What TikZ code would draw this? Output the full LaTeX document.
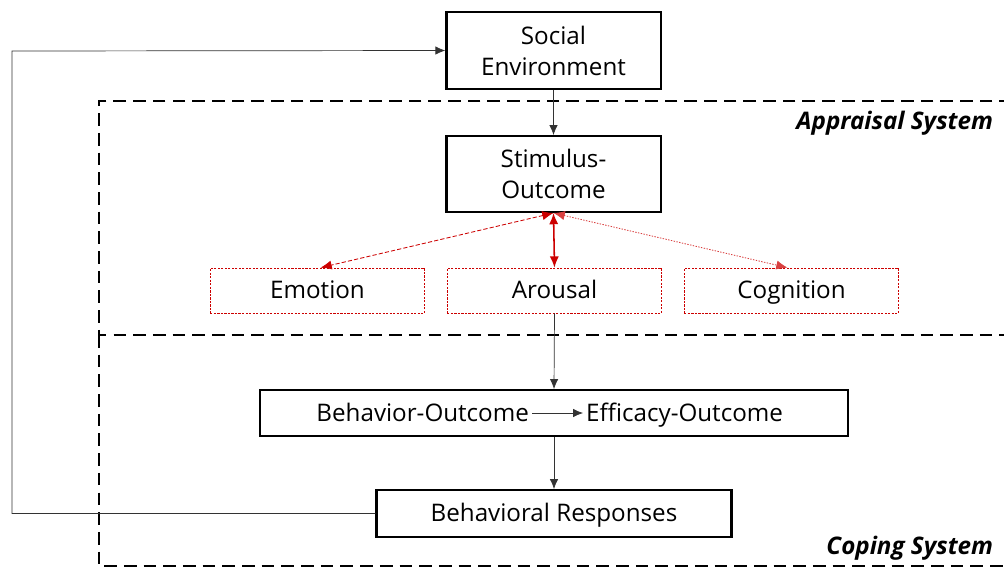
\documentclass[tikz,border=0pt]{standalone}
\usepackage{fontspec}
\setmainfont{Open Sans}
\usetikzlibrary{positioning,arrows.meta}
\definecolor{linkred}{RGB}{204,0,0}
\newlength{\pxu}
\setlength{\pxu}{0.7087pt}
\def\txt{\fontsize{17.2}{22}\selectfont}
\tikzstyle{mainbox}=[draw=black,line width=1.6pt,align=center,inner sep=0pt]
\tikzstyle{oneline}=[text height=14pt,text depth=2pt]
\tikzstyle{redbox}=[draw=linkred,dash pattern=on 1.5pt off 1pt,line width=0.6pt,inner sep=0pt,minimum width=215\pxu,minimum height=45\pxu,oneline]
\tikzstyle{region}=[draw=black,line width=1.6pt,dash pattern=on 9pt off 5pt]
\tikzstyle{link}=[-{Latex[length=7pt,width=6pt]},line width=0.5pt,draw=black!80]
\tikzstyle{redlink}=[{Latex[length=8pt,width=6.5pt]}-{Latex[length=8pt,width=6.5pt]},linkred]

\begin{document}
\begin{tikzpicture}[x=0.025cm,y=-0.025cm,font=\txt]
			\useasboundingbox (0,0) rectangle (1004,568);
			% system regions
			\draw[region] (1012,101) -- (99,101) -- (99,335) -- (1012,335);
			\draw[region] (99,335) -- (99,566) -- (1012,566);
			\node[anchor=east,font=\txt\bfseries\itshape] (appraisal) at (998,123) {Appraisal System};
			\node[anchor=east,font=\txt\bfseries\itshape] (coping) at (998,548) {Coping System};
			% boxes
			\node[mainbox,minimum width=215\pxu,minimum height=77\pxu] (social) at (553.5,50.5) {Social\\Environment};
			\node[mainbox,minimum width=215\pxu,minimum height=76\pxu] (stimulus) at (553.5,174) {Stimulus-\\Outcome};
			\foreach \name/\lbl/\x in {emotion/Emotion/317.5,arousal/Arousal/554.5,cognition/Cognition/791.5}
				\node[redbox] (\name) at (\x,290.5) {\lbl};
			\node[mainbox,minimum width=590\pxu,minimum height=46\pxu] (behavior) at (554,413) {};
			\node[anchor=east,inner sep=2pt,oneline] (behout) at (532,413) {Behavior-Outcome};
			\node[anchor=west,inner sep=2pt,oneline] (effout) at (583,413) {Efficacy-Outcome};
			\node[mainbox,minimum width=356\pxu,minimum height=47\pxu,oneline] (responses) at (554,513.5) {Behavioral Responses};
			% black links
			\draw[link] (social) -- (stimulus);
			\draw[link] (arousal.south) -- (behavior.north);
			\draw[link] (behavior.south) -- (responses.north);
			\draw[link] (behout) -- (effout);
			\coordinate (backbottom) at (12,513.5);
			\coordinate (backtop) at (12,51);
			\draw[link] (responses.west) -- (backbottom) -- (backtop) -- (social.west);
			% red links
			\draw[redlink,dash pattern=on 3pt off 1.5pt,line width=0.6pt] (stimulus.south) -- ([xshift=3\pxu]emotion.north);
			\draw[redlink,line width=1.1pt] (stimulus.south) -- (arousal.north);
			\draw[redlink,draw=linkred!75,dash pattern=on 1pt off 1pt,line width=0.6pt] (stimulus.south) -- ([xshift=-4\pxu]cognition.north);
		\end{tikzpicture}
\end{document}
